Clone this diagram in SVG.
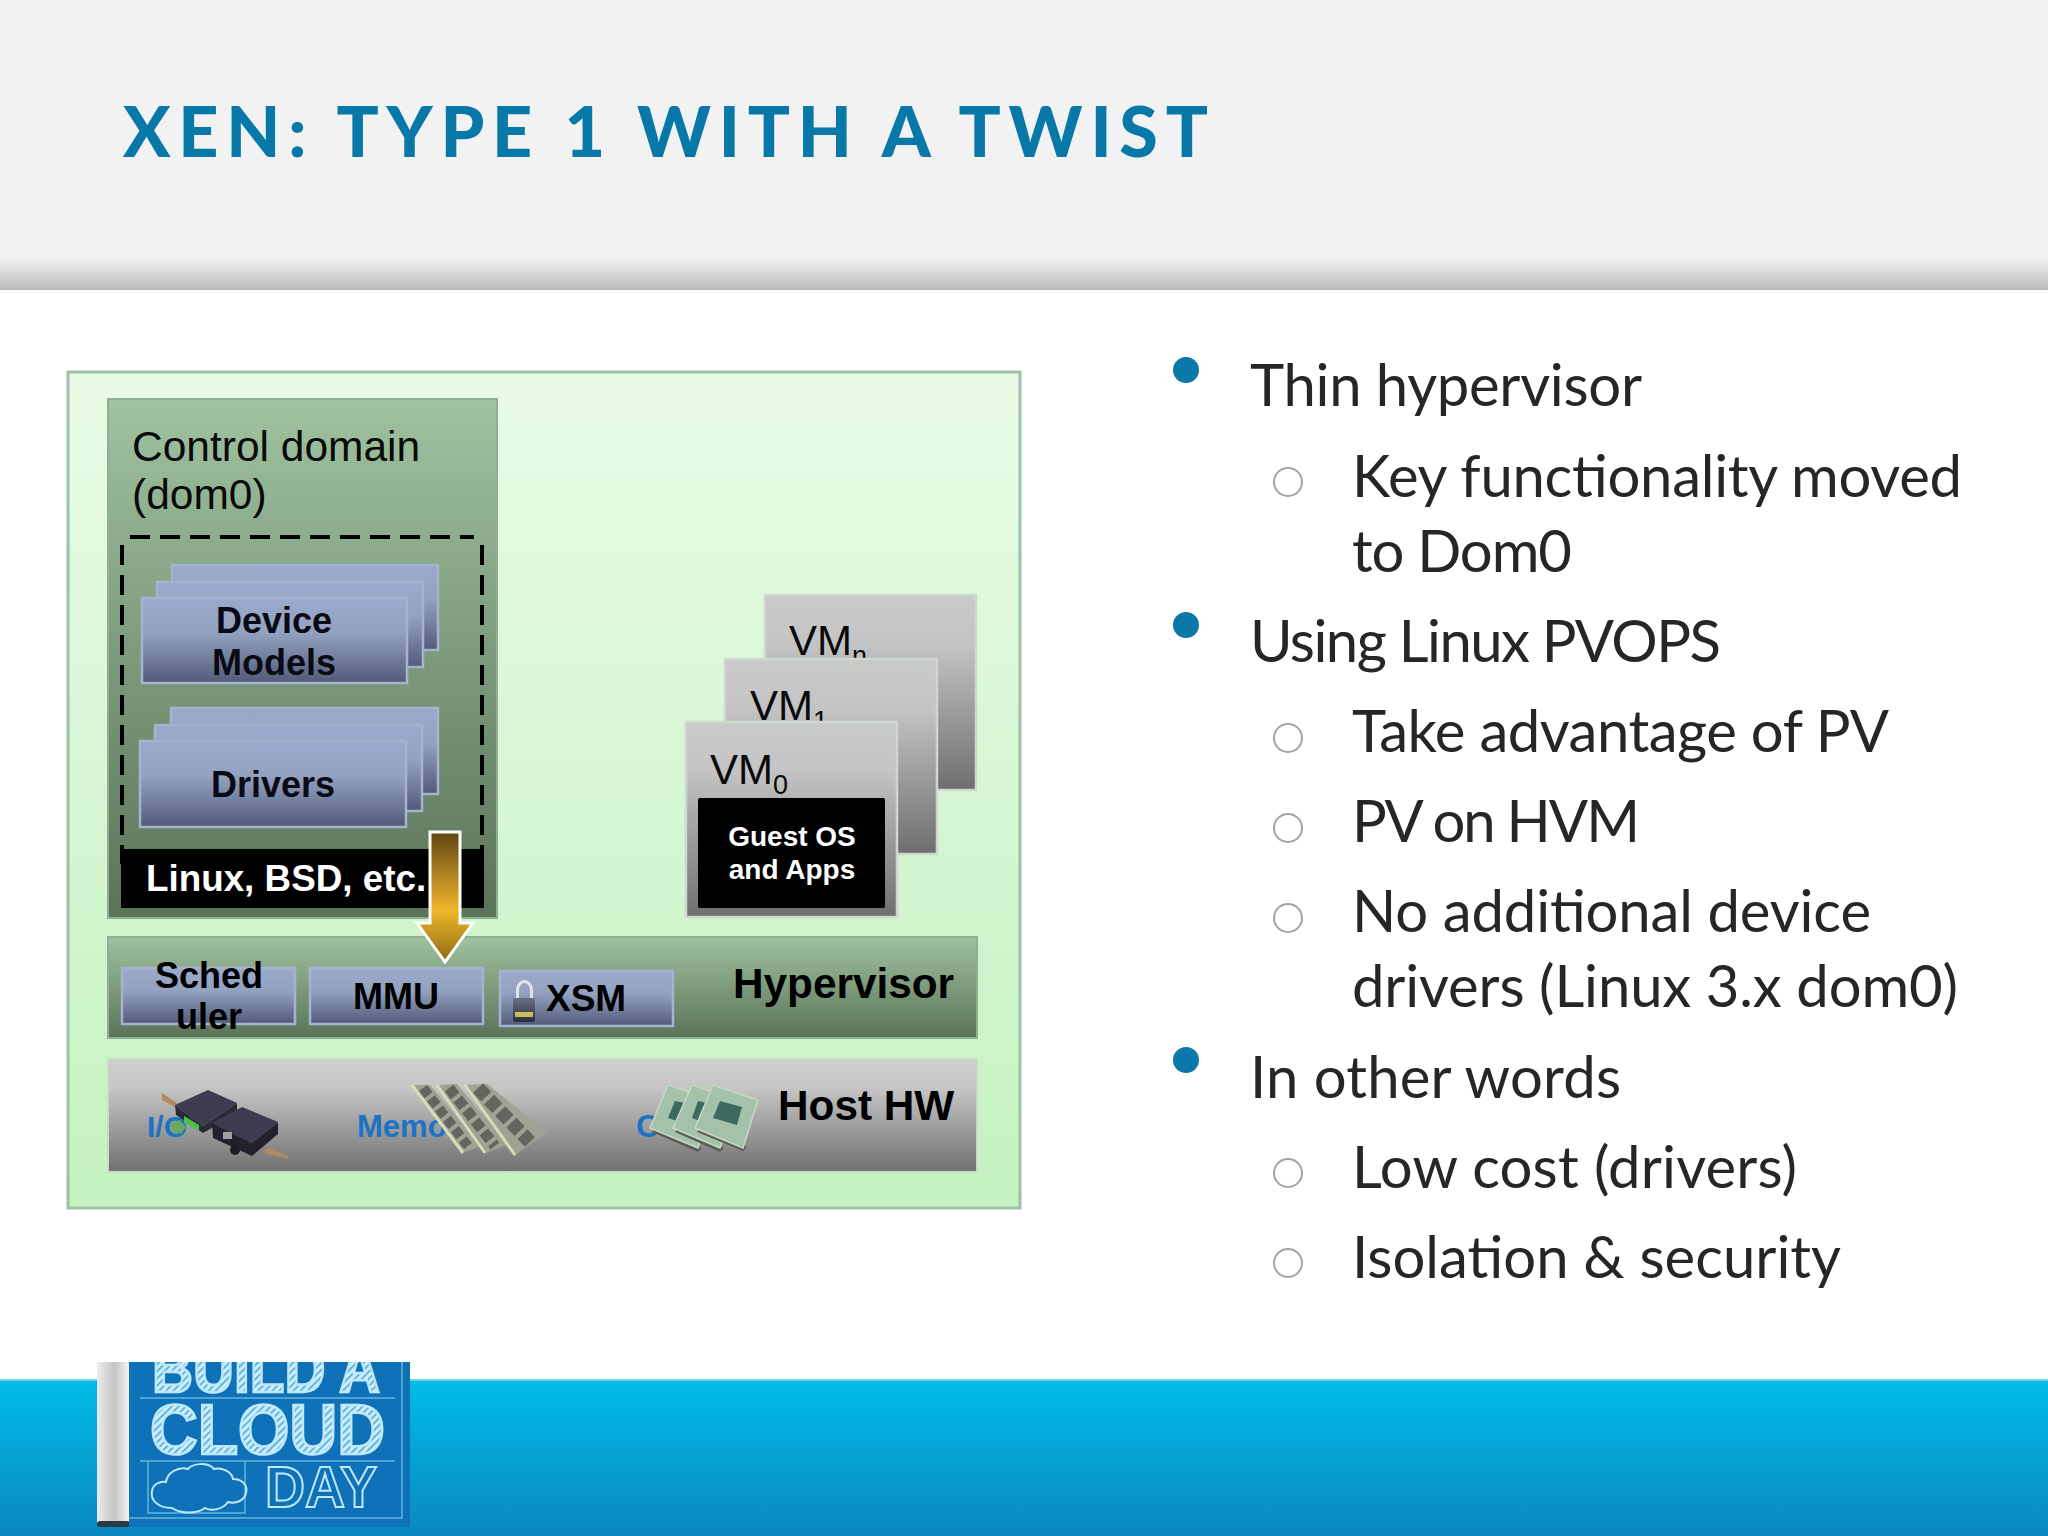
<svg xmlns="http://www.w3.org/2000/svg" width="2048" height="1536" viewBox="0 0 2048 1536">
<style>
.b{font-family:"Lato","Carlito","Open Sans",sans-serif;font-size:58px;fill:#262626}
.a{font-family:"Liberation Sans",Arial,sans-serif}
.ab{font-family:"Liberation Sans",Arial,sans-serif;font-weight:700}
.blk{stroke:#a5b2d0;stroke-width:2.5;fill:url(#gB)}
.vm{stroke:#cfd8cf;stroke-width:2.5;fill:url(#gV)}
.dot{fill:#0a78a8}
.ring{fill:#fff;stroke:#a3a3a3;stroke-width:2}
.chip{fill:#a4c2aa;stroke:#c8d8c4;stroke-width:1.5}
.die{fill:#3e6a60}
.stick{fill:#9fa394}
.edge{fill:none;stroke:#d8dcb8;stroke-width:3}
.rchip{fill:none;stroke:#62665f}
</style>
<defs>
<linearGradient id="gS" x1="0" y1="0" x2="0" y2="1"><stop offset="0" stop-color="#f2f2f2"/><stop offset="1" stop-color="#b9b9b9"/></linearGradient>
<linearGradient id="gF" x1="0" y1="0" x2="0" y2="1"><stop offset="0" stop-color="#00bce8"/><stop offset="1" stop-color="#0a88bf"/></linearGradient>
<linearGradient id="gO" x1="0" y1="0" x2="0" y2="1"><stop offset="0" stop-color="#e8fbe6"/><stop offset="1" stop-color="#c4f2c0"/></linearGradient>
<linearGradient id="gG" x1="0" y1="0" x2="0" y2="1"><stop offset="0" stop-color="#9fc29f"/><stop offset="1" stop-color="#5a7358"/></linearGradient>
<linearGradient id="gB" x1="0" y1="0" x2="0" y2="1"><stop offset="0" stop-color="#9ba9ca"/><stop offset="0.4" stop-color="#94a2c2"/><stop offset="1" stop-color="#515b78"/></linearGradient>
<linearGradient id="gV" x1="0" y1="0" x2="0" y2="1"><stop offset="0" stop-color="#cacaca"/><stop offset="0.25" stop-color="#c4c4c4"/><stop offset="1" stop-color="#6e6e6e"/></linearGradient>
<linearGradient id="gW" x1="0" y1="0" x2="0" y2="1"><stop offset="0" stop-color="#cfcfcf"/><stop offset="0.25" stop-color="#c6c6c6"/><stop offset="1" stop-color="#707070"/></linearGradient>
<linearGradient id="gA" x1="0" y1="0" x2="0" y2="1"><stop offset="0" stop-color="#5f4412"/><stop offset="0.6" stop-color="#f0b62a"/><stop offset="1" stop-color="#8c6a14"/></linearGradient>
<linearGradient id="gR" x1="0" y1="0" x2="1" y2="0"><stop offset="0" stop-color="#ececec"/><stop offset="0.55" stop-color="#c4c4c4"/><stop offset="1" stop-color="#f4f4f4"/></linearGradient>
<linearGradient id="gL" x1="0" y1="0" x2="0" y2="1"><stop offset="0" stop-color="#687284"/><stop offset="1" stop-color="#2a2f3a"/></linearGradient>
<pattern id="hatch" width="5" height="5" patternUnits="userSpaceOnUse" patternTransform="rotate(45)"><rect width="5" height="5" fill="#cbeefb"/><rect width="1.6" height="5" fill="#4fa8da"/></pattern>
<clipPath id="logoClip"><rect x="129" y="1362" width="281" height="165"/></clipPath>
<filter id="soft" x="-5%" y="-5%" width="110%" height="110%"><feGaussianBlur stdDeviation="0.7"/></filter>
</defs>

<g id="background">
<rect width="2048" height="1536" fill="#fff"/>
<rect width="2048" height="258" fill="#f2f2f2"/>
<rect y="258" width="2048" height="32" fill="url(#gS)"/>
<rect y="1379" width="2048" height="157" fill="url(#gF)"/>
<rect y="1379" width="2048" height="2" fill="#6fd0ea"/>
</g>

<text id="title" x="123" y="157" font-family="Lato,Carlito,'Open Sans',sans-serif" font-weight="900" font-size="70" fill="#0878a8" textLength="1085">XEN: TYPE 1 WITH A TWIST</text>

<g id="diagram-frame"><rect x="68" y="372" width="952" height="836" fill="url(#gO)" stroke="#9cc2a8" stroke-width="3"/></g>

<g id="dom0">
<rect x="108" y="399" width="389" height="519" fill="url(#gG)" stroke="#8fae92" stroke-width="2"/>
<text class="a" font-size="42.5" fill="#0a0a0a"><tspan x="132" y="461">Control domain</tspan><tspan x="132" y="509">(dom0)</tspan></text>
<path d="M130 537H474M122 545V864M482 545V864" fill="none" stroke="#000" stroke-width="4" stroke-dasharray="20 10"/>
<rect x="121" y="849" width="363" height="59" fill="#000"/>
<text class="ab" x="146" y="891" font-size="36.8" fill="#fff">Linux, BSD, etc.</text>
</g>

<g id="device-models">
<rect class="blk" x="172" y="565" width="266" height="85"/>
<rect class="blk" x="157" y="582" width="266" height="85"/>
<rect class="blk" x="142" y="598" width="265" height="85"/>
<text class="ab" font-size="36" fill="#0a0a14" text-anchor="middle"><tspan x="274" y="633">Device</tspan><tspan x="274" y="675">Models</tspan></text>
</g>

<g id="drivers">
<rect class="blk" x="171" y="708" width="267" height="86"/>
<rect class="blk" x="155" y="725" width="267" height="86"/>
<rect class="blk" x="140" y="741" width="266" height="86"/>
<text class="ab" x="273" y="797" font-size="36" fill="#0a0a14" text-anchor="middle">Drivers</text>
</g>

<g id="vm-n">
<rect class="vm" x="765" y="595" width="211" height="195"/>
<text class="a" x="789" y="655" font-size="42" fill="#0a0a0a">VM<tspan font-size="27" dy="10">n</tspan></text>
</g>
<g id="vm-1">
<rect class="vm" x="725" y="659" width="212" height="195"/>
<text class="a" x="750" y="720" font-size="42" fill="#0a0a0a">VM<tspan font-size="27" dy="10">1</tspan></text>
</g>
<g id="vm-0">
<rect class="vm" x="686" y="722" width="211" height="195"/>
<text class="a" x="710" y="784" font-size="42" fill="#0a0a0a">VM<tspan font-size="27" dy="10">0</tspan></text>
<rect x="698" y="798" width="187" height="110" rx="2" fill="#000"/>
<text class="ab" font-size="28" fill="#fff" text-anchor="middle"><tspan x="792" y="846">Guest OS</tspan><tspan x="792" y="879">and Apps</tspan></text>
</g>

<g id="hypervisor">
<rect x="108" y="937" width="869" height="101" fill="url(#gG)" stroke="#8fae92" stroke-width="2"/>
<text class="ab" x="733" y="998" font-size="42.3" fill="#000">Hypervisor</text>
</g>
<g id="scheduler">
<rect class="blk" x="122" y="968" width="173" height="56"/>
<text class="ab" font-size="36" fill="#000" text-anchor="middle"><tspan x="209" y="988">Sched</tspan><tspan x="209" y="1029">uler</tspan></text>
</g>
<g id="mmu">
<rect class="blk" x="310" y="968" width="173" height="56"/>
<text class="ab" x="396" y="1009" font-size="36" fill="#000" text-anchor="middle">MMU</text>
</g>
<g id="xsm">
<rect class="blk" x="500" y="971" width="173" height="55"/>
<path d="M517.5 1000V990a7 8.5 0 0 1 14 0V1000" fill="none" stroke="#dfe5ea" stroke-width="3" filter="url(#soft)"/>
<rect x="513" y="998" width="22" height="24" rx="2" fill="url(#gL)"/>
<rect x="515" y="1012" width="18" height="5" fill="#cdbc62"/>
<text class="ab" x="546" y="1011" font-size="37" fill="#000">XSM</text>
</g>

<g id="host-hw">
<rect x="108" y="1059" width="869" height="113" fill="url(#gW)" stroke="#c8dcc8" stroke-width="2"/>
<text class="ab" x="778" y="1120" font-size="42.3" fill="#000">Host HW</text>
<text class="ab" x="147" y="1137" font-size="30" fill="#1c72c4">I/O</text>
<text class="ab" x="357" y="1137" font-size="31" fill="#1c72c4">Memo</text>
<text class="ab" x="636" y="1137" font-size="32" fill="#1c72c4">C</text>
<g id="io-device" filter="url(#soft)">
<polygon points="162,1093 177,1103 175,1107 162,1100" fill="#b08a60"/>
<polygon points="268,1147 288,1156 288,1159 264,1153" fill="#b08a60"/>
<polygon points="175,1105 208,1090 237,1103 203,1126" fill="#3e3a50"/>
<polygon points="175,1105 203,1126 237,1103 237,1114 203,1133 176,1115" fill="#2c2a3a"/>
<polygon points="184,1116 199,1125 199,1131 184,1123" fill="#4cc04c"/>
<polygon points="170,1123 180,1120 186,1127 181,1134 172,1131" fill="#68a860"/>
<polygon points="212,1123 242,1107 278,1122 252,1143" fill="#3e3a50"/>
<polygon points="212,1123 252,1143 278,1122 278,1134 252,1156 213,1138" fill="#24222e"/>
<rect x="223" y="1132" width="9" height="7" fill="#a0a0a8"/>
<circle cx="235" cy="1150" r="5" fill="#1c1c24"/>
</g>
<g id="ram" filter="url(#soft)">
<polygon class="stick" points="412,1085 430,1085 480,1146 463,1153"/>
<path class="edge" d="M412 1085L463 1153"/>
<line class="rchip" x1="423" y1="1088" x2="468" y2="1146" stroke-width="10" stroke-dasharray="9 4"/>
<polygon class="stick" points="437,1085 457,1084 507,1145 485,1153"/>
<path class="edge" d="M437 1085L485 1153"/>
<line class="rchip" x1="449" y1="1088" x2="495" y2="1146" stroke-width="11" stroke-dasharray="10 4"/>
<polygon class="stick" points="465,1085 487,1084 547,1132 515,1155"/>
<path class="edge" d="M465 1085L515 1155"/>
<line class="rchip" x1="478" y1="1088" x2="530" y2="1142" stroke-width="14" stroke-dasharray="12 4"/>
</g>
<g id="cpu" filter="url(#soft)">
<polygon points="652,1132 698,1152 702,1148 656,1128" fill="#5a5e54"/>
<polygon class="chip" points="668,1085 713,1100 698,1148 650,1128"/>
<polygon class="die" points="675,1101 685,1103 680,1122 668,1118"/>
<polygon points="675,1132 720,1152 724,1148 678,1128" fill="#5a5e54"/>
<polygon class="chip" points="692,1085 737,1100 720,1148 673,1128"/>
<polygon class="die" points="698,1101 707,1103 702,1122 692,1118"/>
<polygon points="697,1132 743,1151 747,1147 700,1128" fill="#5a5e54"/>
<polygon class="chip" points="713,1085 758,1100 743,1148 695,1128"/>
<polygon class="die" points="720,1101 742,1107 737,1125 713,1118"/>
</g>
</g>

<g id="connectors">
<polygon points="430,832 460,832 460,923 473,923 445,962 417,923 430,923" fill="url(#gA)" stroke="#fff" stroke-width="3"/>
</g>

<g id="bullets">
<circle class="dot" cx="1186" cy="370" r="13"/><circle class="dot" cx="1186" cy="625" r="13"/><circle class="dot" cx="1186" cy="1060" r="13"/>
<circle class="ring" cx="1288" cy="482" r="14"/><circle class="ring" cx="1288" cy="738" r="14"/><circle class="ring" cx="1288" cy="828" r="14"/><circle class="ring" cx="1288" cy="918" r="14"/><circle class="ring" cx="1288" cy="1173" r="14"/><circle class="ring" cx="1288" cy="1263" r="14"/>
</g>
<g id="bullet-text">
<text class="b" x="1250" y="406" textLength="392">Thin hypervisor</text>
<text class="b" x="1352" y="497" textLength="610">Key functionality moved</text>
<text class="b" x="1352" y="572" textLength="220">to Dom0</text>
<text class="b" x="1250" y="662" textLength="471">Using Linux PVOPS</text>
<text class="b" x="1352" y="752" textLength="537">Take advantage of PV</text>
<text class="b" x="1352" y="842" textLength="288">PV on HVM</text>
<text class="b" x="1352" y="932" textLength="519">No additional device</text>
<text class="b" x="1352" y="1007" textLength="606">drivers (Linux 3.x dom0)</text>
<text class="b" x="1250" y="1098" textLength="371">In other words</text>
<text class="b" x="1352" y="1188" textLength="445">Low cost (drivers)</text>
<text class="b" x="1352" y="1278" textLength="489">Isolation &amp; security</text>
</g>

<g id="logo">
<rect x="97" y="1362" width="32" height="162" fill="url(#gR)"/>
<rect x="97" y="1521" width="33" height="6" rx="3" fill="#2a3a48"/>
<rect x="129" y="1362" width="281" height="165" fill="#0f72b8"/>
<path d="M129 1518H402V1362M140 1398H395M140 1461H395M148 1461V1513H245V1461" fill="none" stroke="#7fd0ee" stroke-width="1.5" opacity="0.7"/>
<g filter="url(#soft)">
<g clip-path="url(#logoClip)" class="ab" fill="url(#hatch)" stroke="#bfe9fa" stroke-width="2.5">
<text x="152" y="1392" font-size="66" textLength="228" lengthAdjust="spacingAndGlyphs">BUILD A</text>
<text x="150" y="1454" font-size="70" textLength="235" lengthAdjust="spacingAndGlyphs">CLOUD</text>
</g>
<text class="ab" x="265" y="1507" font-size="58" fill="none" stroke="#bfe9fa" stroke-width="2" textLength="112" lengthAdjust="spacingAndGlyphs">DAY</text>
<path d="M172 1508c-14 0-22-8-20-17 1-7 8-10 14-9 1-9 12-16 22-13 5-6 20-7 26 0 8-2 18 3 19 10 10 0 15 7 13 14-2 8-10 11-18 9-5 7-16 10-23 6-8 6-24 6-33 0z" fill="none" stroke="#bfe9fa" stroke-width="2"/>
</g>
</g>
</svg>
